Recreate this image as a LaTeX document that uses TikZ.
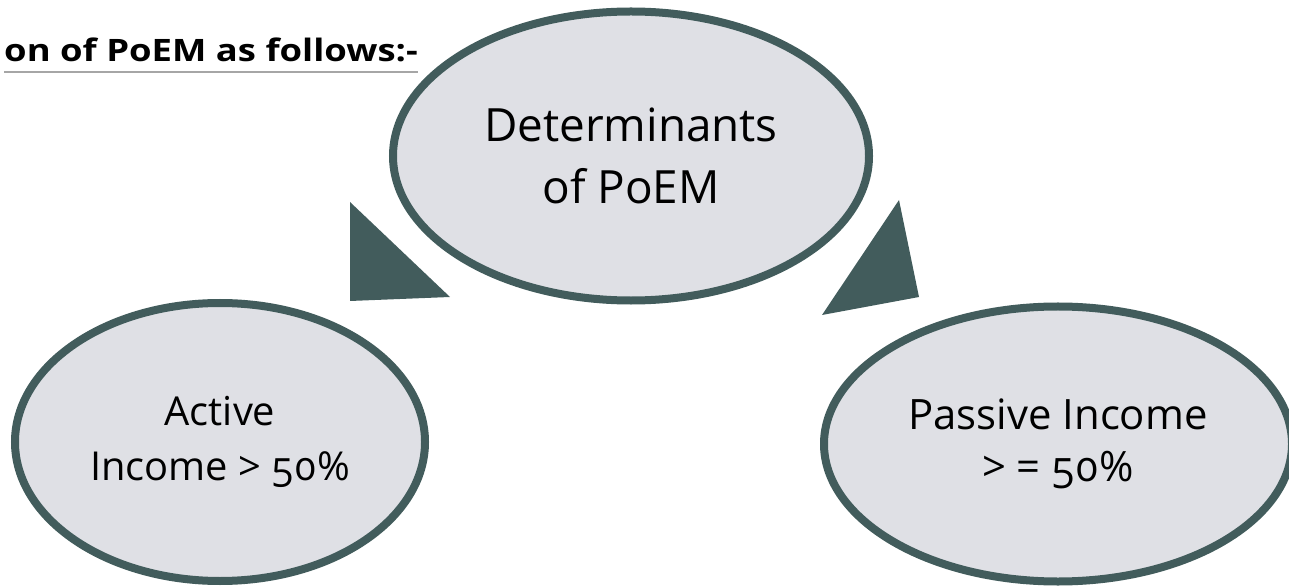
\documentclass[tikz,border=0pt]{standalone}
\usepackage{fontspec}
\setmainfont{Open Sans}[Numbers=OldStyle]
\newfontfamily\headfont{Open Sans}[FakeStretch=1.18]
\usetikzlibrary{shapes.geometric}

\definecolor{slate}{HTML}{425C5C}
\definecolor{bubblefill}{HTML}{DFE0E5}

\tikzset{
  bubble/.style={ellipse, draw=slate, fill=bubblefill, line width=8bp,
    inner sep=0pt, align=center, text=black},
  pointer/.style={fill=slate, draw=none}
}

\begin{document}
\begin{tikzpicture}[x=1bp, y=-1bp]
		
		\useasboundingbox (0,0) rectangle (1289,586);
		\clip (0,0) rectangle (1289,586);
		
		% heading, cut at the left
		\node[anchor=base east, inner sep=0pt, font=\headfont\fontsize{31}{36}\selectfont\bfseries] (title) at (418,62) {on of PoEM as follows:-};
		\draw[black!35, line width=1.2bp] (title.base west) ++(0,10) coordinate (ulw) -- (ulw -| title.east);
		
		% bubbles
		\node[bubble, minimum width=476bp, minimum height=289bp, font=\fontsize{46}{62}\selectfont] (poem) at (631,156) {Determinants\\of PoEM};
		\node[bubble, minimum width=410bp, minimum height=278bp, font=\fontsize{40}{55}\selectfont] (active) at (220,442) {Active\\Income > 50\%};
		\node[bubble, minimum width=468bp, minimum height=275bp, font=\fontsize{42}{52}\selectfont] (passive) at (1058,444) {Passive Income\\> = 50\%};
		
		% pointers
		\fill[pointer] (350,202) -- (350,301) -- (450,297) -- cycle;
		\fill[pointer] (899,200) -- (919,297) -- (822,315) -- cycle;
		
	\end{tikzpicture}
\end{document}
